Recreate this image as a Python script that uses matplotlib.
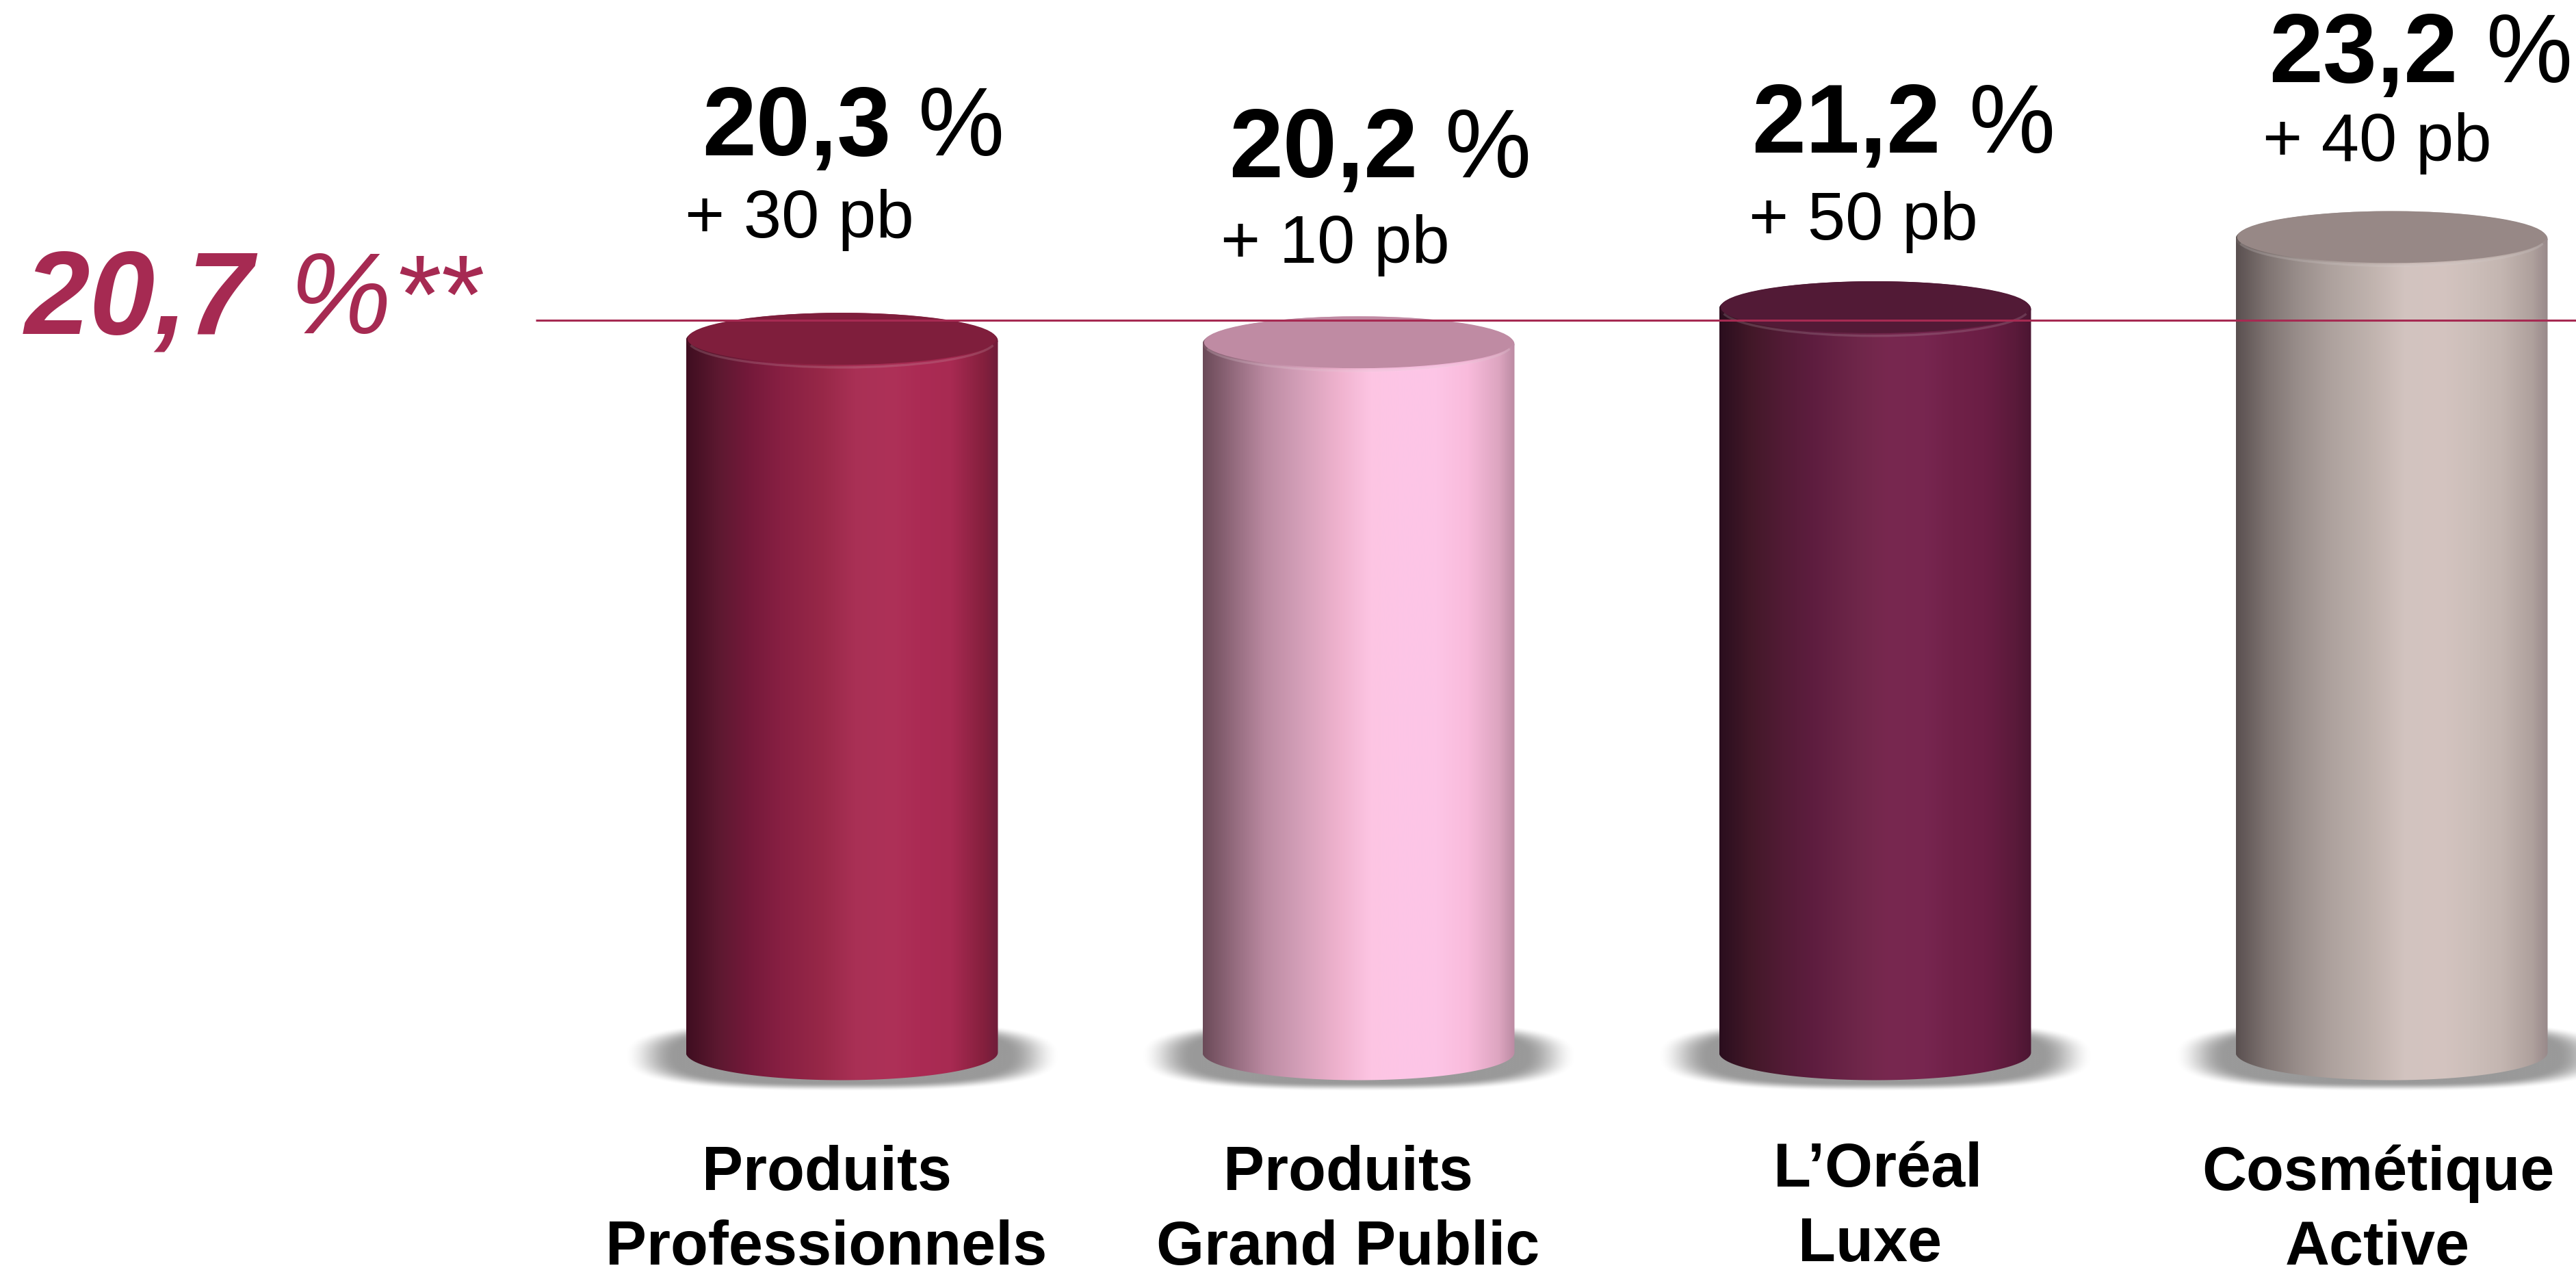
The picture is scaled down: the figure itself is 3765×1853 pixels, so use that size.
import numpy as np
import matplotlib
matplotlib.use("Agg")
import matplotlib.pyplot as plt
from matplotlib.colors import LinearSegmentedColormap, to_rgb
from matplotlib.patches import Ellipse, PathPatch, Arc
from matplotlib.path import Path

W, H = 3766, 1853
plt.rcParams['font.family'] = ['Liberation Sans', 'DejaVu Sans']

# ---- data ----
categories = [["Produits", "Professionnels"], ["Produits", "Grand Public"],
              ["L’Oréal", "Luxe"], ["Cosmétique", "Active"]]
margins = [20.3, 20.2, 21.2, 23.2]
margin_labels = ["20,3", "20,2", "21,2", "23,2"]
delta_labels = ["+ 30 pb", "+ 10 pb", "+ 50 pb", "+ 40 pb"]
reference_position = 20.87   # where the line sits on the bar scale
reference_label = "20,7"

# ---- styles ----
stops = [0, .10, .20, .30, .44, .54, .66, .75, .85, .95, 1]
bar_grads = [
    ["#3F0E20", "#5C1830", "#74193A", "#871F42", "#982848", "#A93055", "#AE3158", "#AB2B54", "#A82A52", "#86203E", "#701D3A"],
    ["#6B4A58", "#946B7E", "#BB8AA1", "#D19DB6", "#F0B3CF", "#FDC5E3", "#FDC6E7", "#FDC5E6", "#F9BBDC", "#DDA5C0", "#BC8BA3"],
    ["#2A0E1E", "#421828", "#521B35", "#5E1D3F", "#6E2649", "#78284F", "#772650", "#702148", "#6B1E45", "#5A1A3A", "#4B1632"],
    ["#5A5050", "#7F7472", "#998E8B", "#ADA19D", "#C1B4AF", "#D2C3BF", "#D4C4C0", "#CDBFBA", "#C4B6B1", "#AFA19D", "#98898A"],
]
top_faces = ["#7F1E3C", "#BF8BA3", "#521A36", "#978886"]
accent = "#A62A52"

PX_X = 755.0      # pixels per category step
PX_Y = 51.25      # pixels per percentage point
half_w = 228 / PX_X
ell_h = 40.5 / PX_Y

fig = plt.figure(figsize=(W / 100, H / 100), dpi=100, facecolor="white")
ax = fig.add_axes([0, 0, 1, 1])
ax.set_axis_off()
xlim = (-1230.5 / PX_X, (W - 1230.5) / PX_X)
ylim = (-(H - 1538) / PX_Y, 1538 / PX_Y)


def cyl_path(x0, x1, top, bot_h):
    """Body: straight sides, rounded bottom (half ellipse)."""
    xc = (x0 + x1) / 2
    a = (x1 - x0) / 2
    th = np.linspace(np.pi, 2 * np.pi, 80)
    xs = np.r_[x0, xc + a * np.cos(th), x1]
    ys = np.r_[top, bot_h * np.sin(th), top]
    return Path(np.c_[xs, ys])


# shadows: soft rounded blob
sx = np.linspace(-1.15, 1.15, 500)
sy = np.linspace(-1.15, 1.15, 200)
XX, YY = np.meshgrid(sx, sy)
R = (np.abs(XX) ** 2.8 + np.abs(YY) ** 2.8) ** (1 / 2.8)
al = np.clip((1 - R) / 0.24, 0, 1)
al = al * al * (3 - 2 * al) * 0.40
shadow = np.zeros(R.shape + (4,))
shadow[..., 3] = al
sh_a = 320 / PX_X
sh_b = 52 / PX_Y
sh_c = -5 / PX_Y

for i, v in enumerate(margins):
    ax.imshow(shadow, extent=(i - sh_a * 1.15, i + sh_a * 1.15, sh_c - sh_b * 1.15, sh_c + sh_b * 1.15),
              origin="lower", aspect="auto", zorder=1, interpolation="bilinear")

for i, v in enumerate(margins):
    cmap = LinearSegmentedColormap.from_list(f"b{i}", list(zip(stops, bar_grads[i])), N=512)
    grad = np.linspace(0, 1, 512)[None, :]
    x0, x1 = i - half_w, i + half_w
    # body
    im = ax.imshow(grad, extent=(x0, x1, -ell_h - .1, v), cmap=cmap, vmin=0, vmax=1,
                   origin="lower", aspect="auto", zorder=2)
    body = PathPatch(cyl_path(x0, x1, v, ell_h), transform=ax.transData, fc="none", ec="none")
    ax.add_patch(body)
    im.set_clip_path(body)
    # top rim: same gradient, lightened, clipped to outer ellipse
    rgb = np.array([to_rgb(c) for c in bar_grads[i]])
    rim_cols = 0.85 * rgb + 0.15 * np.array(to_rgb(top_faces[i]))
    rim_cmap = LinearSegmentedColormap.from_list(f"r{i}", list(zip(stops, rim_cols)), N=512)
    im2 = ax.imshow(grad, extent=(x0, x1, v - ell_h - .1, v + ell_h + .1), cmap=rim_cmap, vmin=0, vmax=1,
                    origin="lower", aspect="auto", zorder=3)
    outer = Ellipse((i, v), 2 * half_w, 2 * ell_h, transform=ax.transData, fc="none", ec="none")
    ax.add_patch(outer)
    im2.set_clip_path(outer)
    # top face
    ax.add_patch(Ellipse((i, v + 0.05), 2 * half_w * 0.99, 2 * (ell_h - 0.05),
                         fc=top_faces[i], ec="none", zorder=4))
    # soft highlight along the front of the rim
    ax.add_patch(Arc((i, v), 2 * half_w * 0.985, 2 * ell_h * 0.97, theta1=205, theta2=335,
                     ec="white", alpha=0.14, lw=2.4, zorder=5))

ax.plot([-(1230.5 - 783) / PX_X, xlim[1]], [reference_position] * 2, color=accent,
        lw=2.2, solid_capstyle="butt", zorder=6)
ax.set_xlim(xlim)
ax.set_ylim(ylim)


def txt(px, py, s, size_px, **kw):
    kw.setdefault("color", "black")
    kw.setdefault("va", "baseline")
    return fig.text(px / W, 1 - py / H, s, fontsize=size_px * 72 / 100, **kw)


big = 142
small = 99.5
cat = 90
big_pos = [(1026, 227, 1468), (1796, 259, 2238), (2560, 223, 3004), (3316, 120, 3760)]
delta_pos = [(1001, 347), (1784, 384), (2556, 350), (3307, 235)]
cat_pos = [((1209, 1739), (1208, 1848)), ((1970, 1739), (1970, 1848)),
           ((2745, 1734), (2733, 1843)), ((3476, 1739), (3475, 1848))]

for i in range(4):
    bx, by, pr = big_pos[i]
    txt(bx, by, margin_labels[i], big, fontweight="bold", ha="left")
    txt(pr, by, "%", big, ha="right")
    dx, dy = delta_pos[i]
    txt(dx, dy, delta_labels[i], small, ha="left")
    for line, (cx, cy) in zip(categories[i], cat_pos[i]):
        txt(cx, cy, line, cat, fontweight="bold", ha="center")

txt(36, 487, reference_label, 172, color=accent, fontweight="bold", style="italic", ha="left")
txt(422, 487, "%", 168, color=accent, style="italic", ha="left")
txt(574, 487, "**", 164, color=accent, style="italic", ha="left")

fig.savefig("out.png", dpi=100, facecolor="white")
